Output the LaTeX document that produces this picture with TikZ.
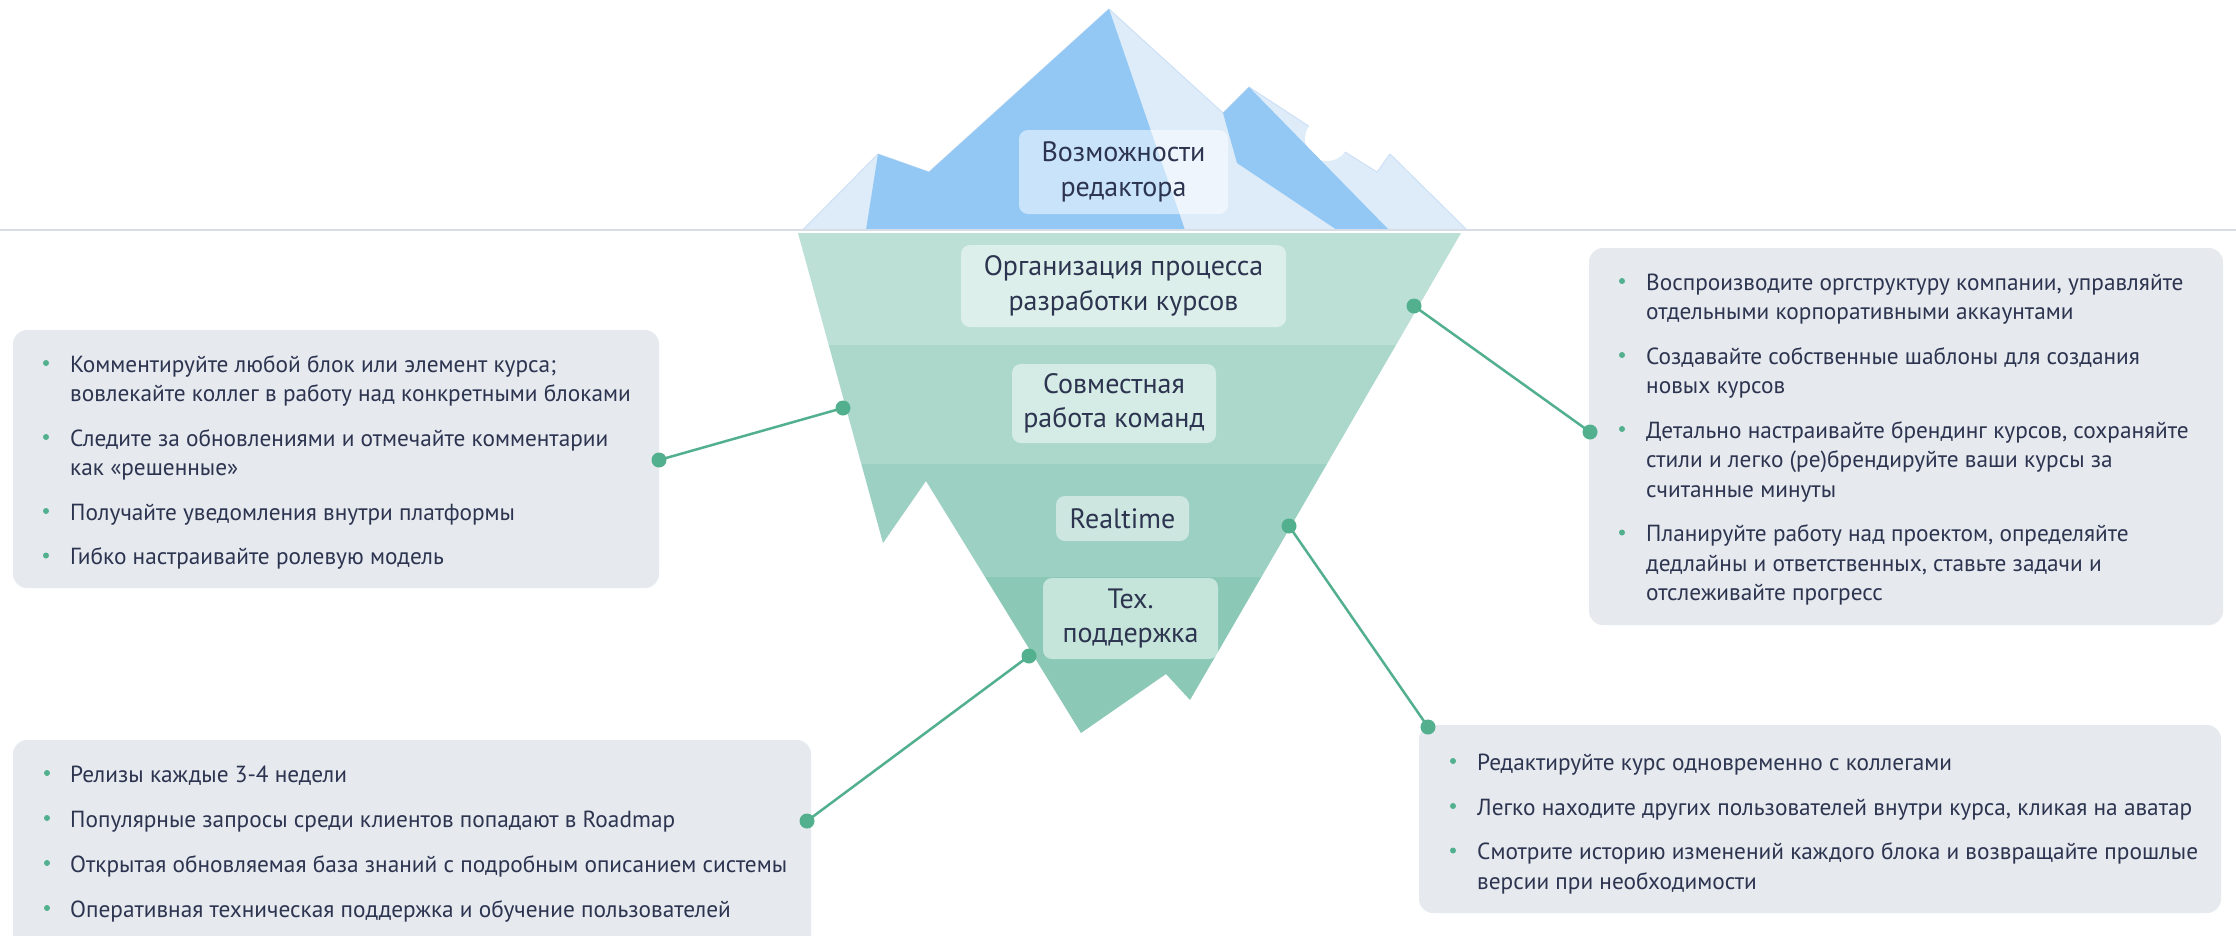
\documentclass[tikz,border=0pt]{standalone}
\usepackage{fontspec}
\setmainfont{PT Sans}
\definecolor{txt}{RGB}{44,52,80}
\definecolor{grn}{RGB}{82,176,143}
\definecolor{boxgray}{RGB}{230,233,238}
\definecolor{icelight}{RGB}{222,236,249}
\definecolor{icedark}{RGB}{147,200,245}
\definecolor{iceedge}{RGB}{205,224,245}
\definecolor{waterc}{RGB}{215,221,229}
\definecolor{bandA}{RGB}{188,224,214}
\definecolor{bandB}{RGB}{172,216,204}
\definecolor{bandC}{RGB}{156,208,194}
\definecolor{bandD}{RGB}{139,201,182}
\begin{document}
\begin{tikzpicture}[x=1pt,y=-1pt,
  bodytxt/.style={anchor=base west, inner sep=0pt, font=\fontsize{23.3}{29.5}\selectfont, text=txt},
  bul/.style={circle, fill=grn, inner sep=0pt, minimum size=6pt},
  infobox/.style={rectangle, rounded corners=14pt, fill=boxgray, inner sep=0pt},
  lbl/.style={rectangle, rounded corners=9pt, fill=white, fill opacity=0.5, text opacity=1, text=txt, align=center, font=\fontsize{28}{34.5}\selectfont, inner sep=0pt},
  dotc/.style={circle, fill=grn, inner sep=0pt, minimum size=15pt},
  conn/.style={draw=grn, line width=2.5pt}]
\useasboundingbox (0,0) rectangle (2236,935);
\fill[white] (0,0) rectangle (2236,935);

% iceberg above water
\fill[icelight, draw=iceedge, line width=1pt, line join=round] (802.7,230) -- (878,154) -- (929,172) -- (1109,9) -- (1223,113) -- (1249,87) -- (1307,125) -- (1345,152) -- (1377,172) -- (1390,154) -- (1467,230) -- cycle;
\fill[white] (1327,139) circle (22);
\fill[icedark] (866,230) -- (878,154) -- (929,172) -- (1109,9) -- (1185,230) -- cycle;
\fill[icedark] (1223,113) -- (1249,87) -- (1389,230) -- (1337,230) -- (1237,163) -- cycle;

% water line
\draw[waterc, line width=2.5pt] (0,230) -- (2236,230);

% iceberg below water
\begin{scope}
\clip (798,233) -- (883,543) -- (926,481) -- (1081,733) -- (1166,674) -- (1190,700) -- (1461,233) -- cycle;
\fill[bandA] (780,232) rectangle (1480,345);
\fill[bandB] (780,345) rectangle (1480,464);
\fill[bandC] (780,464) rectangle (1480,577);
\fill[bandD] (780,577) rectangle (1480,740);
\end{scope}

% labels
\node[lbl, minimum width=209pt, minimum height=84pt] (L0) at (1123.5,172) {Возможности\\редактора};
\node[lbl, minimum width=325pt, minimum height=82pt] (L1) at (1123.5,286) {Организация процесса\\разработки курсов};
\node[lbl, minimum width=204pt, minimum height=79pt] (L2) at (1114,403.5) {Совместная\\работа команд};
\node[lbl, minimum width=133pt, minimum height=45pt] (L3) at (1122.5,518.5) {Realtime};
\node[lbl, minimum width=175pt, minimum height=81pt] (L4) at (1130.5,618.5) {Тех.\\поддержка};

% info boxes
\node[infobox, minimum width=646pt, minimum height=258pt] (boxL) at (336,459) {};
\node[infobox, minimum width=634pt, minimum height=377pt] (boxR) at (1906,436.5) {};
\node[infobox, minimum width=802pt, minimum height=188pt] (boxBR) at (1820,819) {};
\node[infobox, minimum width=798pt, minimum height=220pt] (boxBL) at (412,850) {};

% left box text
\node[bul] (bL1) at (46,363) {};
\node[bodytxt] (tL1) at (70,372) {Комментируйте любой блок или элемент курса;};
\node[bodytxt] (tL2) at (70,401.5) {вовлекайте коллег в работу над конкретными блоками};
\node[bul] (bL2) at (46,437) {};
\node[bodytxt] (tL3) at (70,446) {Следите за обновлениями и отмечайте комментарии};
\node[bodytxt] (tL4) at (70,475.5) {как «решенные»};
\node[bul] (bL3) at (46,511) {};
\node[bodytxt] (tL5) at (70,520) {Получайте уведомления внутри платформы};
\node[bul] (bL4) at (46,555.5) {};
\node[bodytxt] (tL6) at (70,564.5) {Гибко настраивайте ролевую модель};

% right box text
\node[bul] (bR1) at (1622,281) {};
\node[bodytxt] (tR1) at (1646,290) {Воспроизводите оргструктуру компании, управляйте};
\node[bodytxt] (tR2) at (1646,319.5) {отдельными корпоративными аккаунтами};
\node[bul] (bR2) at (1622,355) {};
\node[bodytxt] (tR3) at (1646,364) {Создавайте собственные шаблоны для создания};
\node[bodytxt] (tR4) at (1646,393.5) {новых курсов};
\node[bul] (bR3) at (1622,429) {};
\node[bodytxt] (tR5) at (1646,438) {Детально настраивайте брендинг курсов, сохраняйте};
\node[bodytxt] (tR6) at (1646,467.5) {стили и легко (ре)брендируйте ваши курсы за};
\node[bodytxt] (tR7) at (1646,497) {считанные минуты};
\node[bul] (bR4) at (1622,532.5) {};
\node[bodytxt] (tR8) at (1646,541.5) {Планируйте работу над проектом, определяйте};
\node[bodytxt] (tR9) at (1646,571) {дедлайны и ответственных, ставьте задачи и};
\node[bodytxt] (tR10) at (1646,600.5) {отслеживайте прогресс};

% bottom right text
\node[bul] (bBR1) at (1453,761) {};
\node[bodytxt] (tBR1) at (1477,770) {Редактируйте курс одновременно с коллегами};
\node[bul] (bBR2) at (1453,806) {};
\node[bodytxt] (tBR2) at (1477,815) {Легко находите других пользователей внутри курса, кликая на аватар};
\node[bul] (bBR3) at (1453,850.5) {};
\node[bodytxt] (tBR3) at (1477,859.5) {Смотрите историю изменений каждого блока и возвращайте прошлые};
\node[bodytxt] (tBR4) at (1477,889) {версии при необходимости};

% bottom left text
\node[bul] (bBL1) at (47,773) {};
\node[bodytxt] (tBL1) at (70,782) {Релизы каждые 3-4 недели};
\node[bul] (bBL2) at (47,818) {};
\node[bodytxt] (tBL2) at (70,827) {Популярные запросы среди клиентов попадают в Roadmap};
\node[bul] (bBL3) at (47,863) {};
\node[bodytxt] (tBL3) at (70,872) {Открытая обновляемая база знаний с подробным описанием системы};
\node[bul] (bBL4) at (47,908) {};
\node[bodytxt] (tBL4) at (70,917) {Оперативная техническая поддержка и обучение пользователей};

% connectors
\coordinate (c1a) at (1414,306);
\coordinate (c1b) at (1590,432);
\coordinate (c2a) at (843,408);
\coordinate (c2b) at (659,460);
\coordinate (c3a) at (1289,526);
\coordinate (c3b) at (1428,727);
\coordinate (c4a) at (1029,656);
\coordinate (c4b) at (807,821);
\draw[conn] (c1a) -- (c1b);
\draw[conn] (c2a) -- (c2b);
\draw[conn] (c3a) -- (c3b);
\draw[conn] (c4a) -- (c4b);
\node[dotc] (d1a) at (c1a) {};
\node[dotc] (d1b) at (c1b) {};
\node[dotc] (d2a) at (c2a) {};
\node[dotc] (d2b) at (c2b) {};
\node[dotc] (d3a) at (c3a) {};
\node[dotc] (d3b) at (c3b) {};
\node[dotc] (d4a) at (c4a) {};
\node[dotc] (d4b) at (c4b) {};
\end{tikzpicture}
\end{document}
